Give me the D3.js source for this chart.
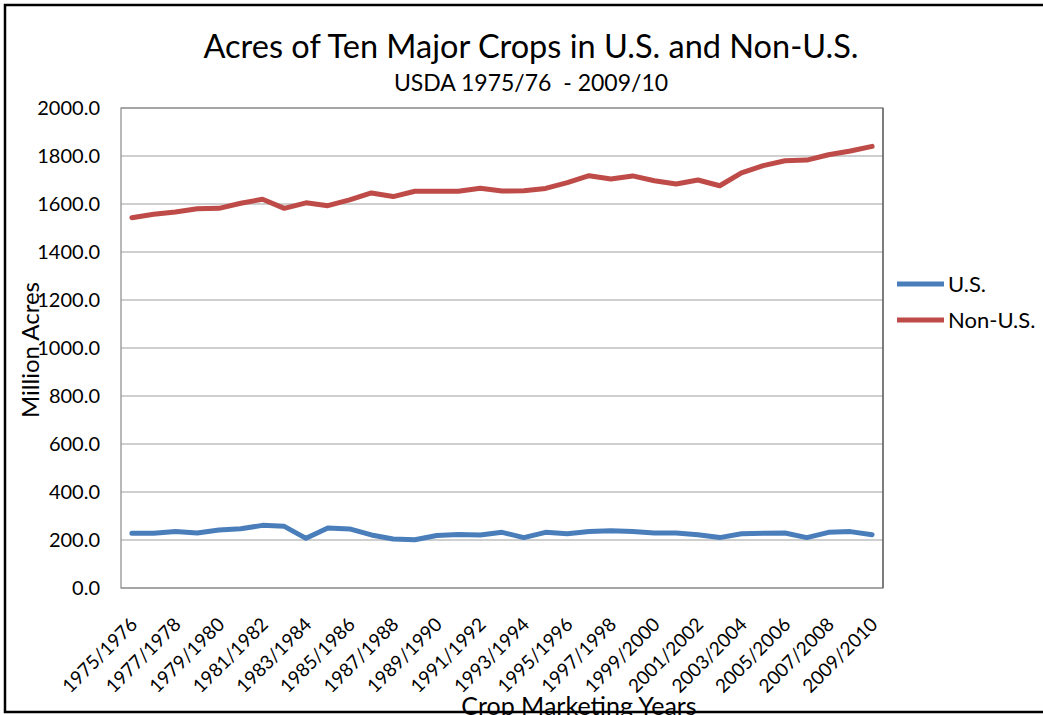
<!DOCTYPE html>
<html><head><meta charset="utf-8">
<script src="https://cdn.jsdelivr.net/npm/d3@7"></script>
<style>body{margin:0;background:#fff}svg{display:block}text{font-family:Lato,"Open Sans",sans-serif;fill:#000}</style>
</head><body><svg id="c" width="1043" height="715"></svg>
<script>
const years = ["1975/1976","1976/1977","1977/1978","1978/1979","1979/1980","1980/1981","1981/1982","1982/1983","1983/1984","1984/1985","1985/1986","1986/1987","1987/1988","1988/1989","1989/1990","1990/1991","1991/1992","1992/1993","1993/1994","1994/1995","1995/1996","1996/1997","1997/1998","1998/1999","1999/2000","2000/2001","2001/2002","2002/2003","2003/2004","2004/2005","2005/2006","2006/2007","2007/2008","2008/2009","2009/2010"];
const usAcres = [228,228,235,229,242,247,261,257,207,250,246,221,204,201,219,223,221,232,210,232,226,235,239,235,229,229,222,210,226,228,229,210,232,235,222];
const nonUsAcres = [1543,1557,1567,1580,1582,1603,1620,1582,1605,1593,1617,1646,1631,1653,1653,1653,1666,1654,1655,1665,1689,1718,1704,1717,1697,1683,1700,1676,1730,1760,1780,1783,1805,1821,1840];
const yTicks = [0,200,400,600,800,1000,1200,1400,1600,1800,2000];
const seriesNames = ["U.S.","Non-U.S."];
const seriesColors = ["#4a7ebb","#be4b48"];

const svg = d3.select("#c");
const L=121, R=883, T=108, B=588;
const x = d3.scaleBand().domain(years).range([L,R]);
const y = d3.scaleLinear().domain([0,2000]).range([B,T]);

// gridlines
svg.append("g").selectAll("line").data(yTicks).join("line")
  .attr("x1",L).attr("x2",R).attr("y1",d=>y(d)).attr("y2",d=>y(d))
  .attr("stroke","#a0a0a0").attr("stroke-width",1.2);
// plot border
svg.append("rect").attr("x",L).attr("y",T).attr("width",R-L).attr("height",B-T)
  .attr("fill","none").attr("stroke","#8a8a8a").attr("stroke-width",1.2);
svg.append("line").attr("x1",R).attr("x2",R).attr("y1",T).attr("y2",B).attr("stroke","#555").attr("stroke-width",1.2);

// y axis labels
const yAxis = d3.axisLeft(y).tickValues(yTicks).tickFormat(d=>d3.format(".1f")(d)).tickSize(0).tickPadding(21);
const ga = svg.append("g").attr("transform",`translate(${L},0)`).call(yAxis);
ga.select(".domain").remove();
ga.selectAll("text").style("font-size","20px").style("font-family","Lato").attr("fill","#000");

// x axis labels
const xLab = years.filter((d,i)=>i%2===0);
svg.append("g").selectAll("text").data(xLab).join("text")
  .attr("transform",d=>`translate(${x(d)+x.bandwidth()/2+2},${B+33}) rotate(-45)`)
  .attr("text-anchor","end").attr("dy","0.35em").style("font-size","19px").text(d=>d);

// lines
const line = d3.line().x((d,i)=>x(years[i])+x.bandwidth()/2).y(d=>y(d));
[usAcres,nonUsAcres].forEach((s,k)=>{
  svg.append("path").datum(s).attr("d",line).attr("fill","none")
    .attr("stroke",seriesColors[k]).attr("stroke-width",5).attr("stroke-linejoin","round").attr("stroke-linecap","round");
});

// titles
svg.append("text").attr("x",531).attr("y",58).attr("text-anchor","middle").style("font-size","32.5px").text("Acres of Ten Major Crops in U.S. and Non-U.S.");
svg.append("text").attr("x",531).attr("y",91).attr("text-anchor","middle").style("font-size","23px").style("white-space","pre").text("USDA 1975/76  - 2009/10");
svg.append("text").attr("transform","translate(39,350) rotate(-90)").attr("text-anchor","middle").style("font-size","24px").text("Million Acres");
svg.append("text").attr("x",579).attr("y",715).attr("text-anchor","middle").style("font-size","25px").text("Crop Marketing Years");

// legend
seriesNames.forEach((n,k)=>{
  const ly = 284 + k*36;
  svg.append("line").attr("x1",897).attr("x2",944).attr("y1",ly).attr("y2",ly).attr("stroke",seriesColors[k]).attr("stroke-width",5);
  svg.append("text").attr("x",948).attr("y",ly).attr("dy","0.35em").style("font-size","22px").text(n);
});

// outer border
svg.append("path").attr("d","M1050,5 H5 V712 H1050").attr("fill","none").attr("stroke","#000").attr("stroke-width",2.5);
</script></body></html>
